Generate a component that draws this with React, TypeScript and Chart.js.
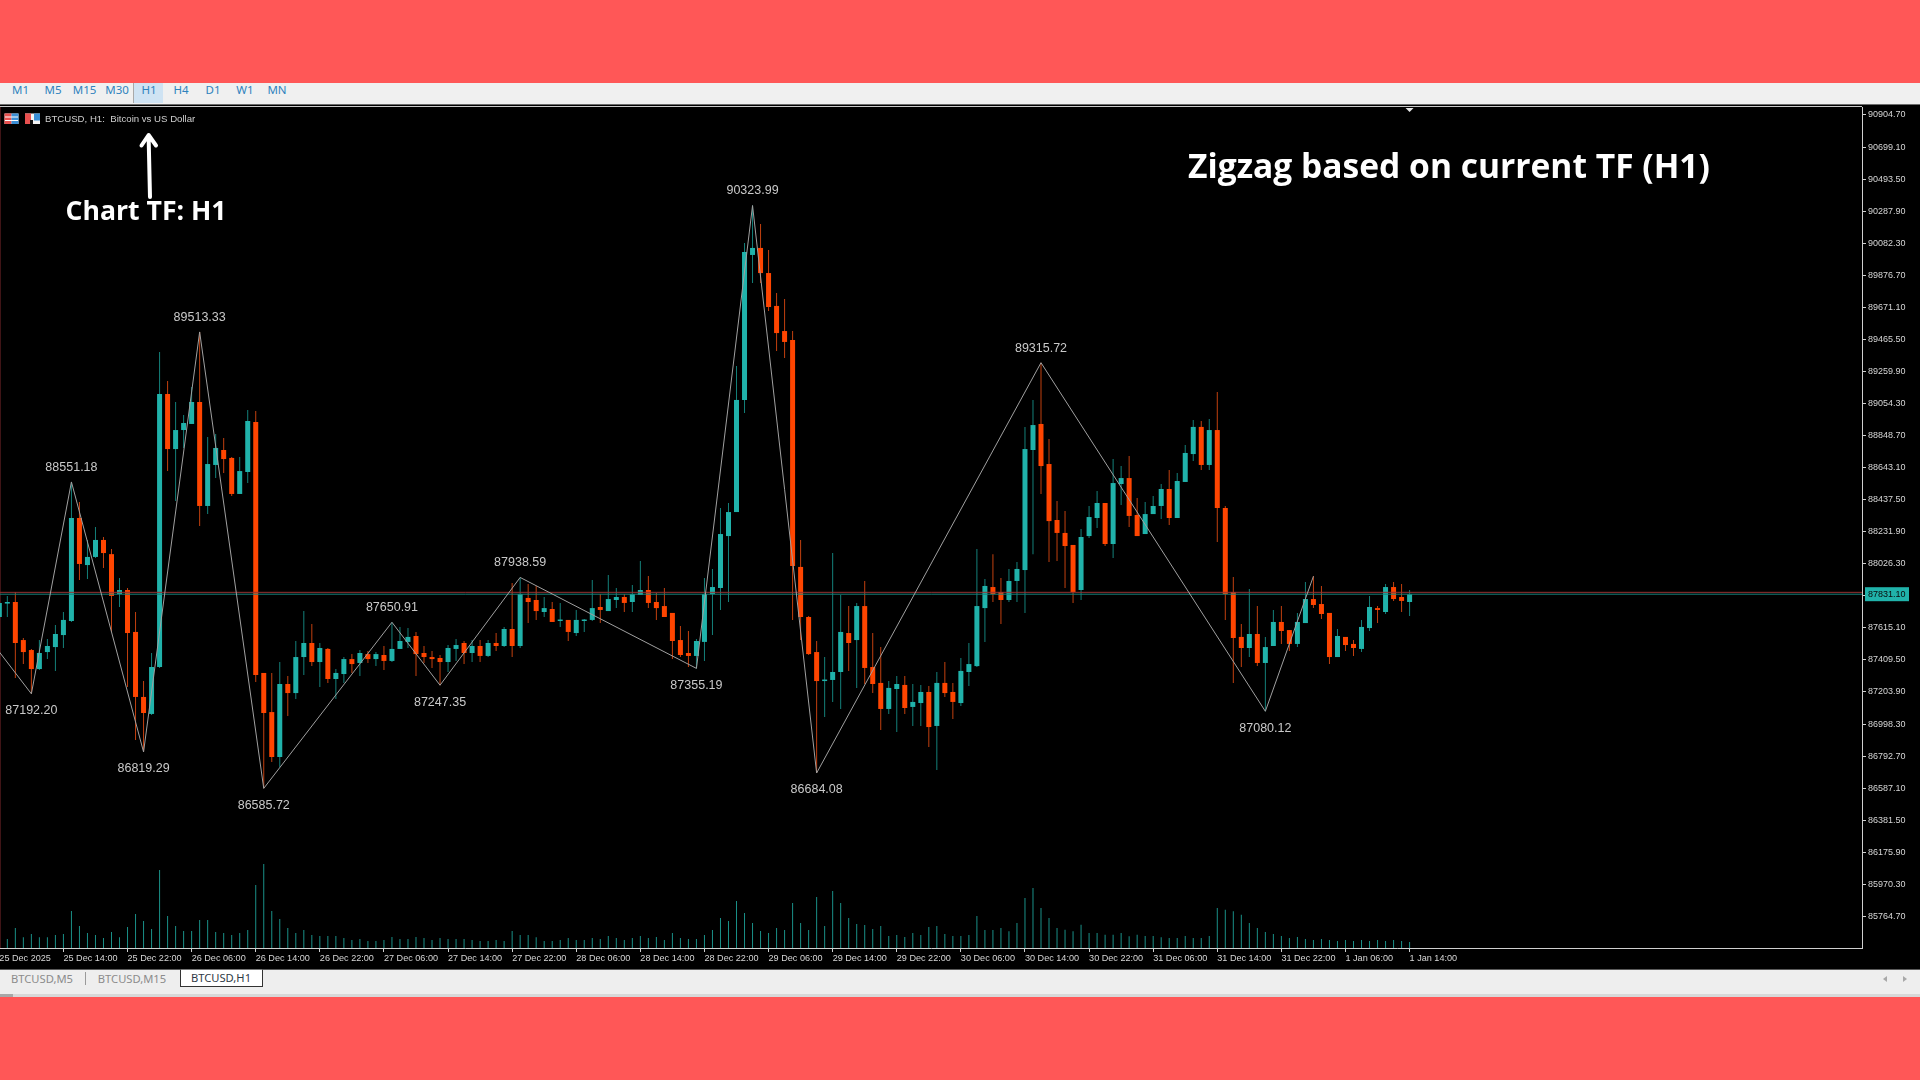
import React, { useEffect, useRef } from "react";
import { Chart, registerables } from "chart.js";

Chart.register(...registerables);

const opens = [
  87685, 87771, 87781, 87537, 87473, 87351, 87460, 87492, 87569, 87659,
  88320, 88018, 88070, 88179, 88088, 87832, 87858, 87589, 87172, 87063,
  87364, 89115, 88762, 88884, 88923, 89064, 88397, 88660, 88756, 88705,
  88474, 88615, 88936, 87326, 87075, 86787, 87255, 87197, 87428, 87518,
  87396, 87480, 87287, 87319, 87415, 87390, 87447, 87415, 87441, 87403,
  87480, 87525, 87563, 87454, 87428, 87422, 87396, 87480, 87518, 87454,
  87499, 87435, 87518, 87499, 87608, 87499, 87807, 87794, 87717, 87736,
  87659, 87666, 87582, 87659, 87666, 87749, 87723, 87794, 87813, 87781,
  87826, 87858, 87781, 87755, 87711, 87537, 87454, 87435, 87525, 87832,
  87871, 88204, 88358, 89077, 90007, 90052, 89891, 89680, 89519, 89462,
  88006, 87685, 87460, 87274, 87281, 87332, 87582, 87537, 87755, 87364,
  87262, 87095, 87223, 87249, 87108, 87133, 87204, 86986, 87262, 87204,
  87133, 87332, 87370, 87742, 87877, 87845, 87794, 87916, 87986, 88756,
  88923, 88666, 88307, 88224, 88147, 87858, 88204, 88320, 88416, 88153,
  88538, 88576, 88339, 88217, 88345, 88397, 88506, 88320, 88551, 88730,
  88904, 88660, 88884, 88384, 87845, 87557, 87486, 87576, 87390, 87499,
  87653, 87601, 87512, 87646, 87800, 87768, 87711, 87428, 87557, 87512,
  87480, 87614, 87742, 87717, 87877, 87813, 87781,
];
const highs = [
  87794, 87820, 87845, 87550, 87480, 87537, 87544, 87634, 87717, 88551,
  88422, 88179, 88262, 88198, 88121, 87935, 87871, 87717, 87274, 87454,
  89385, 89199, 89064, 88981, 89160, 89513, 88839, 88859, 88833, 88711,
  88711, 89013, 89006, 87326, 87326, 87396, 87306, 87531, 87723, 87640,
  87518, 87486, 87351, 87428, 87447, 87473, 87467, 87460, 87499, 87651,
  87621, 87614, 87589, 87499, 87467, 87441, 87505, 87544, 87531, 87537,
  87537, 87537, 87582, 87621, 87903, 87939, 87897, 87884, 87813, 87781,
  87775, 87666, 87730, 87672, 87922, 87832, 87954, 87871, 87832, 87890,
  88044, 87948, 87839, 87871, 87711, 87627, 87595, 87544, 87935, 87993,
  88384, 88416, 89295, 90084, 90324, 90206, 90039, 89763, 89725, 89519,
  88179, 87691, 87531, 87428, 88095, 87826, 87755, 87775, 87916, 87582,
  87492, 87274, 87306, 87306, 87255, 87249, 87242, 87332, 87396, 87262,
  87422, 87518, 88121, 87929, 88088, 87935, 87993, 88038, 88904, 89077,
  89316, 88827, 88429, 88365, 88147, 88249, 88397, 88493, 88416, 88698,
  88653, 88717, 88448, 88422, 88461, 88538, 88628, 88609, 88788, 88948,
  88942, 88955, 89128, 88397, 87941, 87640, 87865, 87755, 87557, 87730,
  87755, 87601, 87711, 87910, 87948, 87884, 87711, 87608, 87557, 87537,
  87666, 87820, 87755, 87897, 87910, 87897, 87858,
];
const lows = [
  87666, 87685, 87294, 87383, 87192, 87345, 87415, 87339, 87486, 87653,
  87922, 87929, 88063, 87999, 87589, 87749, 87236, 86896, 86819, 87056,
  87358, 88621, 88429, 88769, 88923, 88269, 88345, 88576, 88608, 88461,
  88474, 88544, 87268, 86586, 86755, 86723, 87050, 87159, 87313, 87370,
  87236, 87262, 87159, 87262, 87326, 87306, 87390, 87370, 87345, 87396,
  87480, 87486, 87306, 87390, 87358, 87247, 87332, 87403, 87383, 87396,
  87396, 87428, 87467, 87492, 87428, 87486, 87646, 87666, 87685, 87653,
  87621, 87531, 87563, 87589, 87659, 87646, 87723, 87742, 87717, 87717,
  87826, 87742, 87666, 87685, 87415, 87428, 87364, 87355, 87403, 87569,
  87730, 87781, 88358, 88993, 89827, 89827, 89648, 89391, 89346, 87666,
  87537, 87441, 86684, 87044, 87140, 87095, 87339, 87230, 87255, 87197,
  86960, 87063, 86947, 87063, 86986, 86986, 86851, 86704, 87172, 87031,
  87114, 87242, 87364, 87525, 87781, 87640, 87781, 87781, 87711, 88088,
  88474, 88038, 88044, 87871, 87775, 87794, 88192, 88256, 88140, 88063,
  88403, 88262, 88204, 88217, 88345, 88314, 88275, 88320, 88551, 88685,
  88628, 88628, 88166, 87666, 87262, 87364, 87428, 87370, 87080, 87499,
  87512, 87467, 87492, 87646, 87742, 87672, 87383, 87428, 87467, 87435,
  87460, 87595, 87646, 87704, 87788, 87717, 87691,
];
const closes = [
  87775, 87781, 87518, 87460, 87351, 87454, 87499, 87576, 87666, 88320,
  88025, 88070, 88179, 88095, 87820, 87858, 87582, 87172, 87069, 87364,
  89115, 88762, 88884, 88929, 89064, 88397, 88666, 88769, 88698, 88474,
  88621, 88942, 87313, 87069, 86787, 87255, 87197, 87428, 87518, 87396,
  87486, 87287, 87326, 87415, 87383, 87454, 87415, 87447, 87403, 87480,
  87531, 87557, 87447, 87428, 87415, 87396, 87486, 87505, 87454, 87499,
  87435, 87518, 87499, 87608, 87499, 87832, 87781, 87723, 87742, 87653,
  87666, 87589, 87666, 87666, 87742, 87730, 87800, 87813, 87775, 87832,
  87858, 87775, 87742, 87685, 87531, 87441, 87435, 87531, 87832, 87877,
  88217, 88358, 89077, 90026, 90052, 89891, 89673, 89506, 89449, 88012,
  87685, 87447, 87274, 87281, 87332, 87589, 87518, 87755, 87358, 87255,
  87095, 87230, 87255, 87101, 87140, 87204, 86979, 87262, 87197, 87140,
  87339, 87383, 87755, 87884, 87832, 87794, 87916, 87993, 88762, 88916,
  88653, 88300, 88224, 88140, 87845, 88198, 88326, 88416, 88153, 88544,
  88576, 88333, 88204, 88345, 88397, 88506, 88320, 88557, 88737, 88904,
  88660, 88884, 88384, 87832, 87550, 87486, 87576, 87390, 87492, 87653,
  87595, 87512, 87653, 87800, 87762, 87704, 87428, 87563, 87505, 87486,
  87621, 87749, 87730, 87877, 87800, 87788, 87831,
];
const volumes = [
  30,
  27, 60, 32, 42, 32, 32, 39, 42, 111, 66,
  45, 39, 30, 48, 32, 63, 102, 81, 57, 234,
  96, 66, 51, 51, 84, 84, 48, 45, 39, 45,
  54, 189, 252, 111, 87, 60, 45, 54, 39, 36,
  36, 36, 30, 24, 27, 21, 21, 24, 33, 27,
  27, 33, 30, 24, 30, 27, 27, 27, 24, 21,
  21, 24, 21, 51, 39, 39, 32, 21, 21, 24,
  30, 24, 24, 30, 27, 36, 30, 24, 30, 36,
  30, 33, 24, 45, 30, 27, 27, 39, 54, 90,
  81, 141, 105, 75, 51, 45, 60, 54, 135, 75,
  54, 153, 66, 171, 135, 90, 72, 69, 57, 66,
  36, 39, 33, 45, 39, 63, 66, 42, 36, 36,
  39, 96, 54, 54, 60, 50, 75, 150, 180, 120,
  90, 60, 55, 50, 70, 45, 45, 40, 40, 45,
  35, 40, 36, 36, 32, 30, 30, 36, 30, 30,
  36, 120, 115, 110, 100, 75, 60, 48, 42, 36,
  30, 33, 27, 24, 27, 24, 21, 24, 21, 24,
  21, 24, 21, 24, 21, 18,
];

const zigzagBars = [-3, 4, 9, 18, 25, 33, 49, 55, 65, 87, 94, 102, 130, 158, 164];
const zigzagPrices = [
  87662, 87192.2, 88551.18, 86819.29, 89513.33, 86585.72, 87650.91, 87247.35,
  87938.59, 87355.19, 90323.99, 86684.08, 89315.72, 87080.12, 87946,
];
const zigzagLabelled = [false, true, true, true, true, true, true, true, true, true, true, true, true, true, false];

const bidPrice = 87831.1;
const askPrice = 87843;

const xTickBars = [0, 8, 16, 24, 32, 40, 48, 56, 64, 72, 80, 88, 96, 104, 112, 120, 128, 136, 144, 152, 160, 168, 176];
const xTickLabels = [
  "25 Dec 2025", "25 Dec 14:00", "25 Dec 22:00", "26 Dec 06:00", "26 Dec 14:00", "26 Dec 22:00",
  "27 Dec 06:00", "27 Dec 14:00", "27 Dec 22:00", "28 Dec 06:00", "28 Dec 14:00", "28 Dec 22:00",
  "29 Dec 06:00", "29 Dec 14:00", "29 Dec 22:00", "30 Dec 06:00", "30 Dec 14:00", "30 Dec 22:00",
  "31 Dec 06:00", "31 Dec 14:00", "31 Dec 22:00", "1 Jan 06:00", "1 Jan 14:00",
];
const yTickValues = [
  90904.7, 90699.1, 90493.5, 90287.9, 90082.3, 89876.7, 89671.1, 89465.5, 89259.9, 89054.3,
  88848.7, 88643.1, 88437.5, 88231.9, 88026.3, 87820.7, 87615.1, 87409.5, 87203.9, 86998.3,
  86792.7, 86587.1, 86381.5, 86175.9, 85970.3, 85764.7,
];

const timeframes = ["M1", "M5", "M15", "M30", "H1", "H4", "D1", "W1", "MN"];
const timeframeCentres = [20.5, 53, 84.5, 117, 149, 181, 213, 245, 277];

const TEAL = "#20b2aa";
const ORANGE = "#ff4500";
const TEAL_WICK = "#14807a";
const ORANGE_WICK = "#c2400f";
const VOLUME = "#1a9088";
const AXIS = "#cfcfcf";
const TEXT = "#d6d6d6";
const SANS = "'Liberation Sans', Arial, sans-serif";
const UI = "'Noto Sans', sans-serif";

const isUp = (i: number) => closes[i] >= opens[i];

const overlayPlugin = {
  id: "overlay",
  afterDatasetsDraw(chart: any) {
    const { ctx, scales } = chart;
    const { x, y } = scales;
    ctx.save();
    ctx.font = `12.5px ${SANS}`;
    ctx.fillStyle = "#c9c9c9";
    ctx.textAlign = "center";
    ctx.textBaseline = "middle";
    zigzagBars.forEach((bar, i) => {
      if (!zigzagLabelled[i]) return;
      const isHigh = zigzagPrices[i] > zigzagPrices[i - 1];
      const py = y.getPixelForValue(zigzagPrices[i]);
      ctx.fillText(zigzagPrices[i].toFixed(2), x.getPixelForValue(bar), py + (isHigh ? -14.5 : 17));
    });

    const tagY = y.getPixelForValue(bidPrice);
    ctx.fillStyle = TEAL;
    ctx.fillRect(chart.chartArea.right + 3, tagY - 7, 44, 14);
    ctx.fillStyle = "#0a0a0a";
    ctx.font = `9px ${SANS}`;
    ctx.textAlign = "left";
    ctx.fillText(bidPrice.toFixed(2), chart.chartArea.right + 6, tagY);

    const mx = x.getPixelForValue(176);
    const top = chart.chartArea.top;
    ctx.fillStyle = "#e8e8e8";
    ctx.beginPath();
    ctx.moveTo(mx - 4, top + 1);
    ctx.lineTo(mx + 4, top + 1);
    ctx.lineTo(mx, top + 5);
    ctx.closePath();
    ctx.fill();
    ctx.restore();
  },
};

function Label(props: { x: number; y: number; size: number; color: string; text: string; weight?: number; family?: string }) {
  const { x, y, size, color, text, weight = 400, family = UI } = props;
  return (
    <div
      style={{
        position: "absolute", left: x, top: y, transform: "translate(-50%,-50%)",
        fontFamily: family, fontSize: size, fontWeight: weight, color, lineHeight: 1, whiteSpace: "pre",
      }}
    >
      {text}
    </div>
  );
}

function Box(props: { x: number; y: number; w: number; h: number; bg: string; extra?: any }) {
  const { x, y, w, h, bg, extra } = props;
  return <div style={{ position: "absolute", left: x, top: y, width: w, height: h, background: bg, ...extra }} />;
}

export default function App() {
  const ref = useRef<HTMLCanvasElement | null>(null);

  useEffect(() => {
    if (!ref.current) return;
    const bars = opens.map((_, i) => i);
    const chart = new Chart(ref.current, {
      type: "bar",
      plugins: [overlayPlugin],
      data: {
        datasets: [
          {
            type: "line",
            order: 1,
            data: zigzagBars.map((b, i) => ({ x: b, y: zigzagPrices[i] })),
            borderColor: "#a0a0a0",
            borderWidth: 1,
            pointRadius: 0,
            tension: 0,
            yAxisID: "y",
          },
          {
            type: "line",
            order: 2,
            data: [{ x: 0, y: askPrice }, { x: 233, y: askPrice }],
            borderColor: "#963232",
            borderWidth: 1,
            pointRadius: 0,
            yAxisID: "y",
          },
          {
            type: "line",
            order: 2,
            data: [{ x: 0, y: bidPrice }, { x: 233, y: bidPrice }],
            borderColor: "#16807a",
            borderWidth: 1,
            pointRadius: 0,
            yAxisID: "y",
          },
          {
            order: 3,
            data: bars.map((i) => ({ x: i, y: [opens[i], closes[i]] })),
            backgroundColor: (c: any) => (isUp(c.dataIndex) ? TEAL : ORANGE),
            maxBarThickness: 5,
            minBarLength: 1.5,
            grouped: false,
            yAxisID: "y",
          },
          {
            order: 4,
            data: bars.map((i) => ({ x: i, y: [lows[i], highs[i]] })),
            backgroundColor: (c: any) => (isUp(c.dataIndex) ? TEAL_WICK : ORANGE_WICK),
            maxBarThickness: 1,
            grouped: false,
            yAxisID: "y",
          },
          {
            order: 5,
            data: bars.map((i) => ({ x: i, y: volumes[i] })),
            backgroundColor: VOLUME,
            maxBarThickness: 1,
            grouped: false,
            yAxisID: "yVol",
          },
        ],
      } as any,
      options: {
        animation: false,
        responsive: false,
        events: [],
        devicePixelRatio: 1,
        layout: { padding: { top: 107, bottom: 111, left: 0, right: 0 } },
        plugins: { legend: { display: false }, tooltip: { enabled: false }, title: { display: false } },
        scales: {
          x: {
            type: "linear",
            offset: false,
            min: 0.085,
            max: 232.46,
            grid: { drawOnChartArea: false, drawTicks: true, tickLength: 4, color: AXIS, offset: false },
            border: { display: true, color: AXIS, width: 1 },
            afterBuildTicks: (s: any) => {
              s.ticks = xTickBars.map((value) => ({ value }));
            },
            afterFit: (s: any) => {
              s.height = 21;
              s.paddingLeft = 0;
              s.paddingRight = 0;
            },
            ticks: {
              autoSkip: false,
              maxRotation: 0,
              minRotation: 0,
              align: "start",
              padding: 1,
              color: TEXT,
              font: { family: SANS, size: 9.1 },
              callback: (_v: any, i: number) => xTickLabels[i],
            },
          },
          y: {
            type: "linear",
            position: "right",
            min: 85561.8,
            max: 90956,
            grid: { drawOnChartArea: false, drawTicks: true, tickLength: 4, color: AXIS },
            border: { display: true, color: AXIS, width: 1 },
            afterBuildTicks: (s: any) => {
              s.ticks = yTickValues.map((value) => ({ value }));
            },
            afterFit: (s: any) => {
              s.width = 58;
              s.paddingTop = 0;
              s.paddingBottom = 0;
            },
            ticks: {
              autoSkip: false,
              padding: 2,
              color: TEXT,
              font: { family: SANS, size: 9 },
              callback: (v: any) => Number(v).toFixed(2),
            },
          },
          yVol: { type: "linear", display: false, min: 0, max: 2523 },
        },
      } as any,
    });
    return () => chart.destroy();
  }, []);

  return (
    <div style={{ position: "fixed", left: 0, top: 0, width: 1920, height: 1080, overflow: "hidden", background: "#ff5757" }}>
      {/* toolbar */}
      <Box x={0} y={83} w={1920} h={21} bg="#f0f0f0" />
      <Box x={0} y={104} w={1920} h={1} bg="#6b6b6b" />
      <Box x={133} y={83} w={30} h={20} bg="#cfe3f3" />
      <Box x={133} y={83} w={1} h={20} bg="#a9a9a9" />
      {timeframes.map((t, i) => (
        <Label key={t} x={timeframeCentres[i]} y={90} size={11.5} color="#2f82bd" text={t} />
      ))}

      {/* chart panel */}
      <Box x={0} y={105} w={1920} h={864} bg="#000" />
      <Box x={0} y={106} w={1862} h={1} bg="#c9c9c9" />
      <Box x={0} y={107} w={1} h={841} bg="#3f1416" />
      <canvas ref={ref} width={1920} height={1080} style={{ position: "absolute", left: 0, top: 0, width: 1920, height: 1080 }} />

      {/* header of the chart */}
      <svg width={40} height={14} style={{ position: "absolute", left: 3, top: 112 }}>
        <rect x={1.5} y={1.5} width={14} height={10.5} fill="#f3f3f3" />
        <rect x={1.5} y={1.5} width={7} height={10.5} fill="#e8504f" />
        <rect x={8.5} y={1.5} width={7} height={10.5} fill="#3b8fd6" />
        <line x1={2} x2={15} y1={5} y2={5} stroke="#fff" />
        <line x1={2} x2={15} y1={8.5} y2={8.5} stroke="#fff" />
        <rect x={22} y={1.5} width={15} height={10.5} fill="#f3f3f3" />
        <rect x={22} y={1.5} width={6} height={10.5} fill="#e8504f" />
        <rect x={31} y={1.5} width={6} height={7} fill="#3b8fd6" />
        <rect x={27} y={8} width={3} height={4} fill="#111" />
      </svg>
      <div style={{ position: "absolute", left: 45, top: 113, fontFamily: SANS, fontSize: 9.65, lineHeight: "11px", color: "#cfcfcf", whiteSpace: "pre" }}>
        {"BTCUSD, H1:  Bitcoin vs US Dollar"}
      </div>

      {/* annotations */}
      <svg width={40} height={80} style={{ position: "absolute", left: 130, top: 125 }}>
        <path d="M20 72 L18.6 11 M11.5 20.5 L18.6 10 L26 20.5" stroke="#fff" strokeWidth={4} fill="none" strokeLinecap="round" strokeLinejoin="round" />
      </svg>
      <Label x={146} y={210} size={26.6} weight={700} color="#fff" family="'Open Sans', sans-serif" text="Chart TF: H1" />
      <Label x={1449} y={166} size={33.6} weight={700} color="#fff" family="'Open Sans', sans-serif" text="Zigzag based on current TF (H1)" />

      {/* tab bar */}
      <Box x={0} y={969} w={1920} h={1} bg="#5a5a5a" />
      <Box x={0} y={970} w={1920} h={24} bg="#eeeeee" />
      <Box x={0} y={994} w={1920} h={3} bg="#d8d8d8" />
      <Box x={0} y={994} w={13} h={3} bg="#a8a8a8" />
      <Label x={42} y={979} size={11.2} color="#8b8b8b" text="BTCUSD,M5" />
      <Box x={85} y={972} w={1} h={13} bg="#9a9a9a" />
      <Label x={132} y={979} size={11.2} color="#8b8b8b" text="BTCUSD,M15" />
      <Box x={180} y={969} w={83} h={18} bg="#fff" extra={{ boxSizing: "border-box", border: "1px solid #333", borderTop: "1px solid #777" }} />
      <Label x={221} y={978} size={11.2} color="#2f3a46" text="BTCUSD,H1" />
      <Box x={1883} y={976} w={0} h={0} bg="transparent" extra={{ borderTop: "3.5px solid transparent", borderBottom: "3.5px solid transparent", borderRight: "4px solid #a8a8a8" }} />
      <Box x={1903} y={976} w={0} h={0} bg="transparent" extra={{ borderTop: "3.5px solid transparent", borderBottom: "3.5px solid transparent", borderLeft: "4px solid #a8a8a8" }} />
    </div>
  );
}
